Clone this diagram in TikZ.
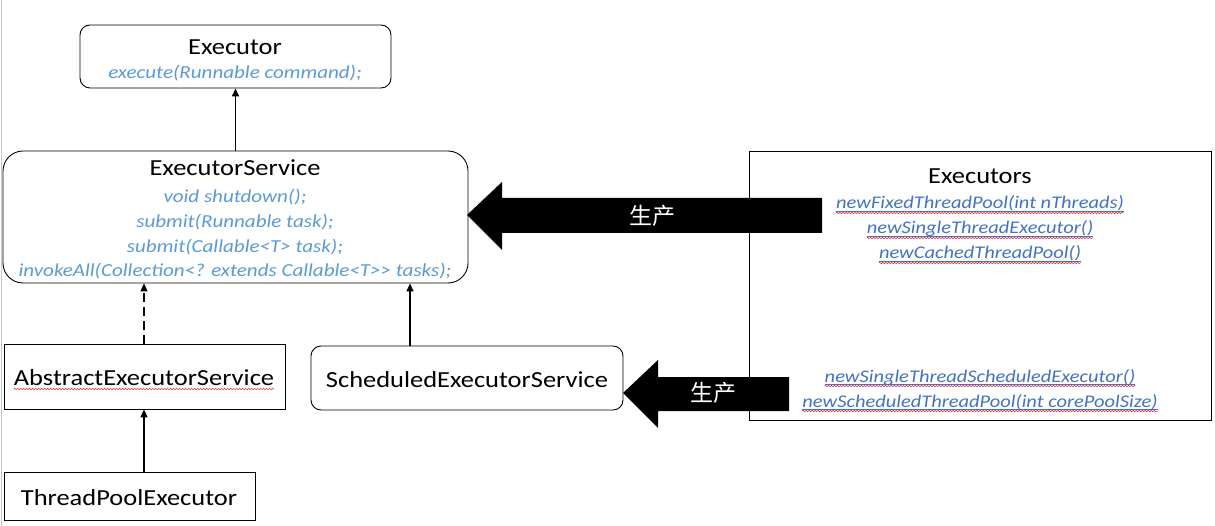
\documentclass[tikz,border=0pt]{standalone}
\usepackage{fontspec}
\setmainfont{Carlito}[FakeStretch=1.15]
\newfontfamily\cjk{Noto Sans CJK SC}
\usetikzlibrary{arrows.meta,decorations.pathmorphing}
\definecolor{mblue}{RGB}{91,155,213}
\definecolor{lblue}{RGB}{68,114,196}
\definecolor{sred}{RGB}{230,40,40}
\tikzset{
  x=1pt,y=-1pt,
  boxsharp/.style={draw=black,line width=0.9pt,fill=white,inner sep=0pt},
  boxround/.style={boxsharp,rounded corners=10pt},
  title/.style={font=\fontsize{23}{23}\selectfont,anchor=base,inner sep=0pt,text=black},
  meth/.style={font=\fontsize{18.3}{18.3}\selectfont\itshape,anchor=base,inner sep=0pt,text=mblue},
  lnk/.style={font=\fontsize{17.8}{17.8}\selectfont\itshape,anchor=base,inner sep=0pt,text=lblue},
  inh/.style={line width=1.4pt,-{Triangle[length=8pt,width=7pt]}},
  blockarrow/.style={fill=black,draw=none},
  cjklabel/.style={font=\cjk\fontsize{23}{23}\selectfont,text=white,inner sep=0pt},
  uline/.style={draw=lblue,line width=0.7pt},
  wavy/.style={draw=sred,line width=0.5pt,decorate,decoration={snake,amplitude=0.8pt,segment length=3pt}}
}
\newcommand{\ulinked}[1]{%
  \draw[uline] ([yshift=-2.5pt]#1.base west) -- ([yshift=-2.5pt]#1.base east);
  \draw[wavy] ([yshift=-4pt]#1.base west) -- ([yshift=-4pt]#1.base east);}
\begin{document}
\begin{tikzpicture}
\useasboundingbox[fill=white] (0,0) rectangle (1215,526);
\draw[gray!45,line width=0.8pt] (1.5,0) -- (1.5,526);

% boxes
\node[boxround,minimum width=311pt,minimum height=63pt] (executor) at (235.5,56.5) {};
\node[boxround,rounded corners=20pt,minimum width=465pt,minimum height=132pt] (service) at (235.5,217) {};
\node[boxsharp,minimum width=462pt,minimum height=269pt] (executors) at (980,285.5) {};
\node[boxsharp,minimum width=281pt,minimum height=65pt] (abstract) at (144.5,376.5) {};
\node[boxround,minimum width=312pt,minimum height=64pt] (scheduled) at (467,378) {};
\node[boxsharp,minimum width=251pt,minimum height=48pt] (tpe) at (129.5,496) {};

% block arrows
\fill[blockarrow] (467,215) -- (502,182) -- (502,198) -- (822,198) -- (822,233) -- (502,233) -- (502,250) -- cycle;
\fill[blockarrow] (623,393) -- (658,360) -- (658,377) -- (789,377) -- (789,411) -- (658,411) -- (658,428) -- cycle;
\node[cjklabel] (prod1) at (652,216) {生产};
\node[cjklabel] (prod2) at (713,393) {生产};

% texts
\node[title] (t1) at (235,55) {Executor};
\node[meth] (m1) at (235,79) {execute(Runnable command);};

\node[title] (t2) at (235,176) {ExecutorService};
\node[meth] (m21) at (235,203) {void shutdown();};
\node[meth] (m22) at (235,228) {submit(Runnable task);};
\node[meth] (m23) at (235,252.5) {submit(Callable<T> task);};
\node[meth] (m24) at (235,277) {invokeAll(Collection<? extends Callable<T>{}> tasks);};

\node[title] (t3) at (980,184) {Executors};
\node[lnk] (l1) at (980,209) {newFixedThreadPool(int nThreads)};
\node[lnk] (l2) at (980,234) {newSingleThreadExecutor()};
\node[lnk] (l3) at (980,259) {newCachedThreadPool()};
\node[lnk] (l4) at (980,382) {newSingleThreadScheduledExecutor()};
\node[lnk] (l5) at (980,407) {newScheduledThreadPool(int corePoolSize)};
\ulinked{l1}\ulinked{l2}\ulinked{l3}\ulinked{l4}\ulinked{l5}

\node[title] (t4) at (144,385) {AbstractExecutorService};
\draw[wavy] ([yshift=-4pt]t4.base west) -- ([yshift=-4pt]t4.base east);
\node[title] (t5) at (467,387) {ScheduledExecutorService};
\node[title] (t6) at (129,505) {ThreadPoolExecutor};

% inheritance arrows
\draw[inh] (service.north) -- (executor.south);
\draw[inh,dash pattern=on 9pt off 5pt] (abstract.north -| 144,0) -- (service.south -| 144,0);
\draw[inh] (tpe.north -| 144,0) -- (abstract.south -| 144,0);
\draw[inh] (scheduled.north -| 410,0) -- (service.south -| 410,0);
\end{tikzpicture}
\end{document}
